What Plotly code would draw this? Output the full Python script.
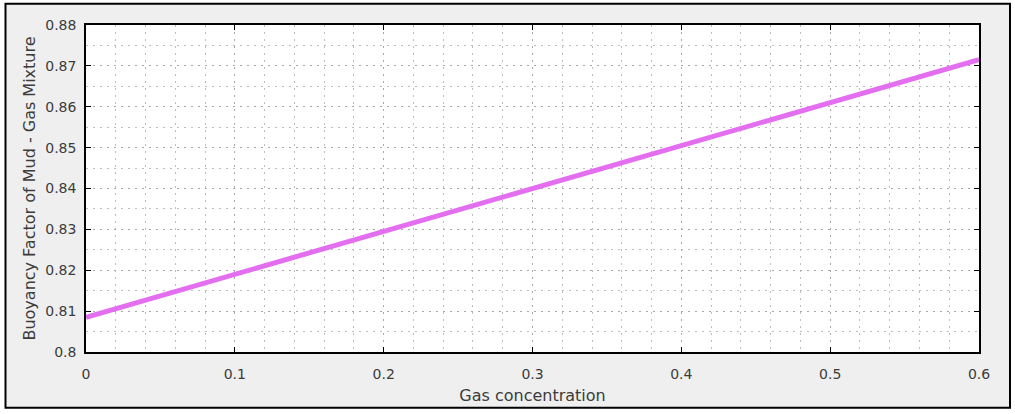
import plotly.graph_objects as go

gas_concentration = [0.0, 0.1, 0.2, 0.3, 0.4, 0.5, 0.6]
buoyancy_factor = [0.8085, 0.8190, 0.8295, 0.8400, 0.8505, 0.8610, 0.8715]
x_ticks = [0, 0.1, 0.2, 0.3, 0.4, 0.5, 0.6]
x_tick_labels = ["0", "0.1", "0.2", "0.3", "0.4", "0.5", "0.6"]
y_ticks = [0.80, 0.81, 0.82, 0.83, 0.84, 0.85, 0.86, 0.87, 0.88]
y_tick_labels = ["0.8", "0.81", "0.82", "0.83", "0.84", "0.85", "0.86", "0.87", "0.88"]

W, H = 1015, 414
L, R, T, B = 86, 36, 25, 60
pw, ph = W - L - R, H - T - B

def px_to_paper_x(p):
    return (p - L) / pw

def px_to_paper_y(p):
    return (H - B - p) / ph

fig = go.Figure()
fig.add_trace(go.Scatter(
    x=gas_concentration, y=buoyancy_factor, mode="lines",
    line=dict(color="#e46ef0", width=5), showlegend=False,
))

font = dict(family="DejaVu Sans, sans-serif", size=14, color="#3c3c3c")
dots = "1.5px,5.5px"
grid = dict(showgrid=True, gridcolor="#a8a8a8", griddash=dots, gridwidth=1)

fig.update_layout(
    width=W, height=H,
    margin=dict(l=L, r=R, t=T, b=B),
    paper_bgcolor="white",
    plot_bgcolor="white",
    font=font,
    shapes=[
        dict(
            type="rect", xref="paper", yref="paper", layer="below",
            x0=px_to_paper_x(5.5), x1=px_to_paper_x(1010), y0=px_to_paper_y(410), y1=px_to_paper_y(3.5),
            fillcolor="#efefef", line=dict(color="black", width=2),
        ),
        dict(
            type="rect", xref="paper", yref="paper", layer="below",
            x0=0, x1=1, y0=0, y1=1,
            fillcolor="white", line=dict(width=0),
        ),
    ],
)
fig.update_xaxes(
    range=[0, 0.6], tickvals=x_ticks, ticktext=x_tick_labels,
    ticks="inside", ticklen=5, tickcolor="black", showline=True, linecolor="black",
    linewidth=1.5, mirror="ticks", zeroline=False, ticklabelstandoff=8,
    minor=dict(dtick=0.02, showgrid=True, gridcolor="#bdbdbd", griddash=dots, ticks=""),
    title=dict(text="Gas concentration", font=dict(size=16, color="#3c3c3c"), standoff=9),
    **grid,
)
fig.update_yaxes(
    range=[0.80, 0.88], tickvals=y_ticks, ticktext=y_tick_labels,
    ticks="inside", ticklen=5, tickcolor="black", showline=True, linecolor="black",
    linewidth=1.5, mirror="ticks", zeroline=False, ticklabelstandoff=5,
    minor=dict(dtick=0.005, showgrid=True, gridcolor="#bdbdbd", griddash=dots, ticks=""),
    title=dict(text="Buoyancy Factor of Mud - Gas Mixture", font=dict(size=16, color="#3c3c3c"), standoff=6),
    **grid,
)

fig.write_html("out.html")
